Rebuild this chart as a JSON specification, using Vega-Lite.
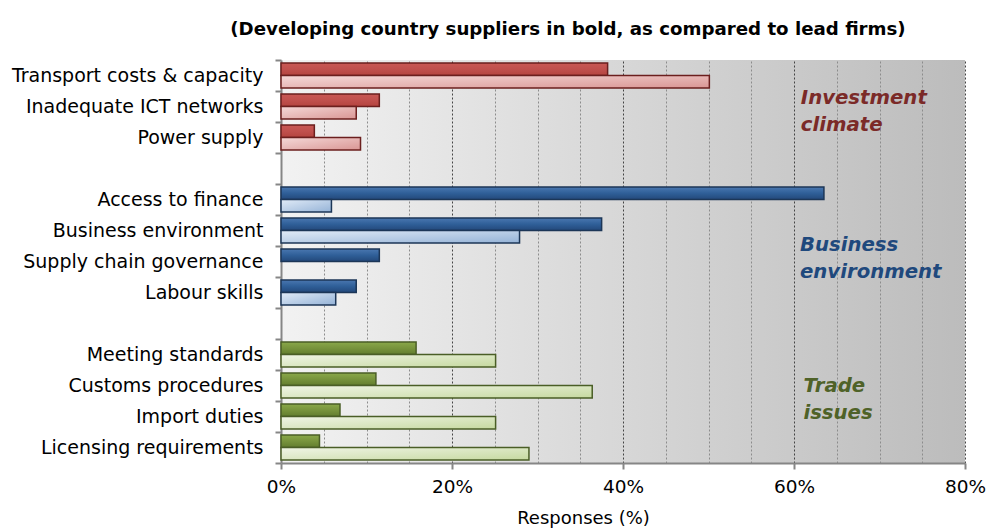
{
  "$schema": "https://vega.github.io/schema/vega-lite/v6.json",
  "width": 684,
  "height": 403,
  "autosize": "none",
  "padding": {"left": 281, "top": 60, "right": 23, "bottom": 65},
  "background": "white",
  "config": {"view": {"stroke": null}, "font": "DejaVu Sans"},
  "title": {
    "text": "(Developing country suppliers in bold, as compared to lead firms)",
    "font": "DejaVu Sans",
    "fontSize": 18.2,
    "fontWeight": "bold",
    "color": "#000000",
    "anchor": "middle",
    "dx": -55,
    "offset": 12
  },
  "view": {
    "fill": {
      "gradient": "linear", "x1": 0, "y1": 0, "x2": 1, "y2": 0,
      "stops": [{"offset": 0, "color": "#f2f2f2"}, {"offset": 1, "color": "#bcbcbc"}]
    }
  },
  "data": {
    "values": [
      {"cat": "Transport costs & capacity", "group": "Investment climate", "series": "Suppliers", "value": 38.2},
      {"cat": "Transport costs & capacity", "group": "Investment climate", "series": "Lead firms", "value": 50.1},
      {"cat": "Inadequate ICT networks", "group": "Investment climate", "series": "Suppliers", "value": 11.5},
      {"cat": "Inadequate ICT networks", "group": "Investment climate", "series": "Lead firms", "value": 8.8},
      {"cat": "Power supply", "group": "Investment climate", "series": "Suppliers", "value": 3.9},
      {"cat": "Power supply", "group": "Investment climate", "series": "Lead firms", "value": 9.3},
      {"cat": "Access to finance", "group": "Business environment", "series": "Suppliers", "value": 63.5},
      {"cat": "Access to finance", "group": "Business environment", "series": "Lead firms", "value": 5.9},
      {"cat": "Business environment", "group": "Business environment", "series": "Suppliers", "value": 37.5},
      {"cat": "Business environment", "group": "Business environment", "series": "Lead firms", "value": 27.9},
      {"cat": "Supply chain governance", "group": "Business environment", "series": "Suppliers", "value": 11.5},
      {"cat": "Labour skills", "group": "Business environment", "series": "Suppliers", "value": 8.8},
      {"cat": "Labour skills", "group": "Business environment", "series": "Lead firms", "value": 6.4},
      {"cat": "Meeting standards", "group": "Trade issues", "series": "Suppliers", "value": 15.8},
      {"cat": "Meeting standards", "group": "Trade issues", "series": "Lead firms", "value": 25.1},
      {"cat": "Customs procedures", "group": "Trade issues", "series": "Suppliers", "value": 11.1},
      {"cat": "Customs procedures", "group": "Trade issues", "series": "Lead firms", "value": 36.4},
      {"cat": "Import duties", "group": "Trade issues", "series": "Suppliers", "value": 6.9},
      {"cat": "Import duties", "group": "Trade issues", "series": "Lead firms", "value": 25.1},
      {"cat": "Licensing requirements", "group": "Trade issues", "series": "Suppliers", "value": 4.5},
      {"cat": "Licensing requirements", "group": "Trade issues", "series": "Lead firms", "value": 29.0}
    ]
  },
  "encoding": {
    "y": {
      "field": "cat", "type": "nominal", "title": null,
      "scale": {
        "domain": ["Transport costs & capacity", "Inadequate ICT networks", "Power supply", " ",
                   "Access to finance", "Business environment", "Supply chain governance", "Labour skills", "  ",
                   "Meeting standards", "Customs procedures", "Import duties", "Licensing requirements"],
        "paddingInner": 0, "paddingOuter": 0
      },
      "axis": {
        "tickBand": "extent",
        "domainColor": "#868686", "domainWidth": 2,
        "tickColor": "#868686", "tickWidth": 2, "tickSize": 6,
        "labelFont": "DejaVu Sans", "labelFontSize": 19, "labelColor": "#000000",
        "labelPadding": 12, "labelLimit": 300
      }
    },
    "x": {
      "field": "value", "type": "quantitative", "title": "Responses (%)",
      "scale": {"domain": [0, 80], "nice": false, "zero": true},
      "axis": {
        "values": [0, 5, 10, 15, 20, 25, 30, 35, 40, 45, 50, 55, 60, 65, 70, 75, 80],
        "labelExpr": "datum.value % 20 === 0 ? datum.value + '%' : ''",
        "grid": true,
        "gridDash": [2, 2],
        "gridWidth": 1,
        "gridColor": {"condition": {"test": "datum.value % 20 === 0 && datum.value > 0", "value": "#444444"}, "value": "#8c8c8c"},
        "gridOpacity": {"condition": {"test": "datum.value === 0", "value": 0}, "value": 1},
        "tickOpacity": {"condition": {"test": "datum.value % 20 === 0", "value": 1}, "value": 0},
        "domainColor": "#868686", "domainWidth": 2,
        "tickColor": "#868686", "tickWidth": 2, "tickSize": 6,
        "labelFont": "DejaVu Sans", "labelFontSize": 18.5, "labelColor": "#000000",
        "labelPadding": 8, "labelFlush": false,
        "titleFont": "DejaVu Sans", "titleFontSize": 18, "titleFontWeight": "normal", "titleColor": "#000000",
        "titleX": 302, "titleY": 55, "titleAlign": "center", "titleBaseline": "middle", "titleAnchor": null
      }
    }
  },
  "layer": [
    {
      "transform": [{"filter": "datum.group === 'Investment climate' && datum.series === 'Suppliers'"}],
      "mark": {"type": "bar", "stroke": "#6b1f1e", "strokeWidth": 1.5,
        "color": {"gradient": "linear", "x1": 0, "y1": 0, "x2": 0, "y2": 1,
          "stops": [{"offset": 0, "color": "#c85854"}, {"offset": 0.5, "color": "#c0504d"}, {"offset": 1, "color": "#b4443f"}]}},
      "encoding": {"yOffset": {"field": "series", "type": "nominal", "scale": {"domain": ["Suppliers", "Lead firms"], "paddingInner": 0, "paddingOuter": 0.24}}}
    },
    {
      "transform": [{"filter": "datum.group === 'Investment climate' && datum.series === 'Lead firms'"}],
      "mark": {"type": "bar", "stroke": "#6b1f1e", "strokeWidth": 1.5,
        "color": {"gradient": "linear", "x1": 0, "y1": 0, "x2": 1, "y2": 1,
          "stops": [{"offset": 0, "color": "#f5d9d8"}, {"offset": 1, "color": "#d99694"}]}},
      "encoding": {"yOffset": {"field": "series", "type": "nominal"}}
    },
    {
      "transform": [{"filter": "datum.group === 'Business environment' && datum.series === 'Suppliers'"}],
      "mark": {"type": "bar", "stroke": "#1c3657", "strokeWidth": 1.5,
        "color": {"gradient": "linear", "x1": 0, "y1": 0, "x2": 0, "y2": 1,
          "stops": [{"offset": 0, "color": "#4a77b0"}, {"offset": 0.5, "color": "#2f5f98"}, {"offset": 1, "color": "#23487a"}]}},
      "encoding": {"yOffset": {"field": "series", "type": "nominal"}}
    },
    {
      "transform": [{"filter": "datum.group === 'Business environment' && datum.series === 'Lead firms'"}],
      "mark": {"type": "bar", "stroke": "#1c3657", "strokeWidth": 1.5,
        "color": {"gradient": "linear", "x1": 0, "y1": 0, "x2": 1, "y2": 1,
          "stops": [{"offset": 0, "color": "#e1ebf7"}, {"offset": 1, "color": "#95b3d7"}]}},
      "encoding": {"yOffset": {"field": "series", "type": "nominal"}}
    },
    {
      "transform": [{"filter": "datum.group === 'Trade issues' && datum.series === 'Suppliers'"}],
      "mark": {"type": "bar", "stroke": "#4a5e26", "strokeWidth": 1.5,
        "color": {"gradient": "linear", "x1": 0, "y1": 0, "x2": 0, "y2": 1,
          "stops": [{"offset": 0, "color": "#8aa84a"}, {"offset": 0.5, "color": "#77933c"}, {"offset": 1, "color": "#627d2e"}]}},
      "encoding": {"yOffset": {"field": "series", "type": "nominal"}}
    },
    {
      "transform": [{"filter": "datum.group === 'Trade issues' && datum.series === 'Lead firms'"}],
      "mark": {"type": "bar", "stroke": "#4a5e26", "strokeWidth": 1.5,
        "color": {"gradient": "linear", "x1": 0, "y1": 0, "x2": 1, "y2": 1,
          "stops": [{"offset": 0, "color": "#f0f5e6"}, {"offset": 1, "color": "#c6d9a0"}]}},
      "encoding": {"yOffset": {"field": "series", "type": "nominal"}}
    },
    {
      "transform": [{"filter": "datum.cat === 'Inadequate ICT networks' && datum.series === 'Suppliers'"}],
      "mark": {"type": "text", "align": "left", "baseline": "middle", "font": "DejaVu Sans", "fontSize": 19.7,
        "fontWeight": "bold", "fontStyle": "italic", "fill": "#7b2a28", "lineHeight": 27, "dy": -9},
      "encoding": {
        "x": {"datum": 60.8},
        "text": {"value": ["Investment", "climate"]}
      }
    },
    {
      "transform": [{"filter": "datum.cat === 'Supply chain governance' && datum.series === 'Suppliers'"}],
      "mark": {"type": "text", "align": "left", "baseline": "middle", "font": "DejaVu Sans", "fontSize": 19.7,
        "fontWeight": "bold", "fontStyle": "italic", "fill": "#1f497d", "lineHeight": 27, "dy": -17},
      "encoding": {
        "x": {"datum": 60.7},
        "text": {"value": ["Business", "environment"]}
      }
    },
    {
      "transform": [{"filter": "datum.cat === 'Customs procedures' && datum.series === 'Suppliers'"}],
      "mark": {"type": "text", "align": "left", "baseline": "middle", "font": "DejaVu Sans", "fontSize": 19.7,
        "fontWeight": "bold", "fontStyle": "italic", "fill": "#4f6228", "lineHeight": 27, "dy": 0},
      "encoding": {
        "x": {"datum": 61.1},
        "text": {"value": ["Trade", "issues"]}
      }
    }
  ]
}
